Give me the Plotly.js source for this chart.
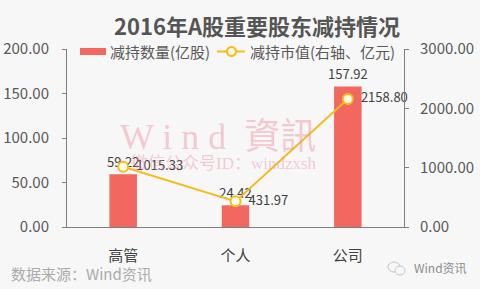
<!DOCTYPE html>
<html>
<head>
<meta charset="utf-8">
<script src="https://cdn.plot.ly/plotly-3.0.1.min.js"></script>
<style>
  html, body { margin: 0; padding: 0; background: #F7F7F7; }
  #chart { width: 480px; height: 289px; }
</style>
</head>
<body>
<div id="chart"></div>
<script>
// 2016年A股重要股东减持：数量（左轴，亿股）与市值（右轴，亿元）
const categories = ['高管', '个人', '公司'];
const reduceShares = [59.22, 24.42, 157.92];     // 减持数量(亿股)
const reduceValue = [1015.33, 431.97, 2158.80];  // 减持市值(亿元)
const leftTicks = [0, 50, 100, 150, 200];
const rightTicks = [0, 1000, 2000, 3000];

const FONT = '"Noto Sans CJK SC", "Noto Sans", sans-serif';
const BAR = '#F2675F';
const LINE = '#F3BD1C';
const TXT = '#595959';

// plot area in pixels, used to place legend / footer items in paper coords
const M = { l: 67, r: 76, t: 49, b: 62 };
const W = 480, H = 289;
const PW = W - M.l - M.r, PH = H - M.t - M.b;
const px = x => (x - M.l) / PW;
const py = y => (H - M.b - y) / PH;

const traces = [
  {
    type: 'bar',
    name: '减持数量(亿股)',
    x: categories,
    y: reduceShares,
    yaxis: 'y',
    width: 0.245,
    marker: { color: BAR },
    text: reduceShares.map(v => v.toFixed(2)),
    textposition: 'outside',
    constraintext: 'none',
    textfont: { family: FONT, size: 13, color: '#404040' },
    cliponaxis: false,
    showlegend: false
  },
  {
    type: 'scatter',
    name: '减持市值(右轴、亿元)',
    x: categories,
    y: reduceValue,
    yaxis: 'y2',
    mode: 'lines+markers+text',
    line: { color: LINE, width: 2 },
    marker: { symbol: 'circle', size: 10, color: '#FFFBE6', line: { color: LINE, width: 2 } },
    text: reduceValue.map(v => '  ' + v.toFixed(2)),
    textposition: 'middle right',
    textfont: { family: FONT, size: 13, color: '#404040' },
    cliponaxis: false,
    showlegend: false
  }
];

const axisCommon = {
  showgrid: false,
  zeroline: false,
  showline: true,
  linecolor: '#7F7F7F',
  linewidth: 1,
  ticks: 'outside',
  ticklen: 4,
  tickcolor: '#7F7F7F',
  tickfont: { family: FONT, size: 15, color: TXT },
  tickformat: '.2f'
};

const shapes = [
  // legend: bar swatch
  { type: 'rect', xref: 'paper', yref: 'paper', x0: px(80), x1: px(106), y0: py(55), y1: py(48),
    fillcolor: BAR, line: { width: 0 } },
  // legend: line swatch with marker
  { type: 'line', xref: 'paper', yref: 'paper', x0: px(217), x1: px(245), y0: py(51.5), y1: py(51.5),
    line: { color: LINE, width: 2 } },
  { type: 'circle', xref: 'paper', yref: 'paper', x0: px(227), x1: px(236), y0: py(56), y1: py(47),
    fillcolor: '#FFFBE6', line: { color: LINE, width: 2 } },
  // small chat-bubble logo in the footer
  { type: 'circle', xref: 'paper', yref: 'paper', x0: px(388), x1: px(400), y0: py(272), y1: py(262),
    fillcolor: 'rgba(0,0,0,0)', line: { color: '#C4C4C4', width: 1 } },
  { type: 'circle', xref: 'paper', yref: 'paper', x0: px(395), x1: px(405), y0: py(275), y1: py(266),
    fillcolor: '#F7F7F7', line: { color: '#C4C4C4', width: 1 } }
];

const WM = 'rgba(236,135,155,0.42)';
const annotations = [
  // watermark
  { xref: 'paper', yref: 'paper', x: px(218), y: py(137), xanchor: 'center', yanchor: 'middle',
    text: 'W i n d  資訊', showarrow: false,
    font: { family: '"Liberation Serif", "Noto Sans CJK TC", serif', size: 36, color: WM } },
  { xref: 'paper', yref: 'paper', x: px(224), y: py(163), xanchor: 'center', yanchor: 'middle',
    text: '微信公众号ID：windzxsh', showarrow: false,
    font: { family: '"Liberation Serif", "Noto Sans CJK SC", serif', size: 17, color: WM } },
  // legend labels
  { xref: 'paper', yref: 'paper', x: px(108), y: py(51.5), xanchor: 'left', yanchor: 'middle',
    text: '减持数量(亿股)', showarrow: false, font: { family: FONT, size: 15, color: TXT } },
  { xref: 'paper', yref: 'paper', x: px(248), y: py(51.5), xanchor: 'left', yanchor: 'middle',
    text: '减持市值(右轴、亿元)', showarrow: false, font: { family: FONT, size: 15, color: TXT } },
  // footer
  { xref: 'paper', yref: 'paper', x: px(9), y: py(273), xanchor: 'left', yanchor: 'middle',
    text: '数据来源：Wind资讯', showarrow: false, font: { family: FONT, size: 15, color: '#ABABAB' } },
  { xref: 'paper', yref: 'paper', x: px(412), y: py(267), xanchor: 'left', yanchor: 'middle',
    text: 'Wind资讯', showarrow: false, font: { family: FONT, size: 12, color: '#8C8C8C' } }
];

const layout = {
  width: W,
  height: H,
  margin: M,
  paper_bgcolor: '#F7F7F7',
  plot_bgcolor: '#F7F7F7',
  showlegend: false,
  title: {
    text: '<b>2016年A股重要股东减持情况</b>',
    font: { family: FONT, size: 22, color: '#555555' },
    x: 257 / W, xanchor: 'center',
    y: 1 - 27 / H, yanchor: 'middle', yref: 'container'
  },
  xaxis: {
    showgrid: false,
    zeroline: false,
    showline: true,
    linecolor: '#7F7F7F',
    linewidth: 1,
    ticks: '',
    tickfont: { family: FONT, size: 15, color: '#404040' },
    ticklabelstandoff: 15
  },
  yaxis: Object.assign({}, axisCommon, {
    range: [0, 200],
    tickvals: leftTicks,
    ticklabelstandoff: 10
  }),
  yaxis2: Object.assign({}, axisCommon, {
    range: [0, 3000],
    tickvals: rightTicks,
    overlaying: 'y',
    side: 'right',
    ticklabelstandoff: 8
  }),
  shapes: shapes,
  annotations: annotations
};

Plotly.newPlot('chart', traces, layout, { displayModeBar: false, staticPlot: true });
</script>
</body>
</html>
